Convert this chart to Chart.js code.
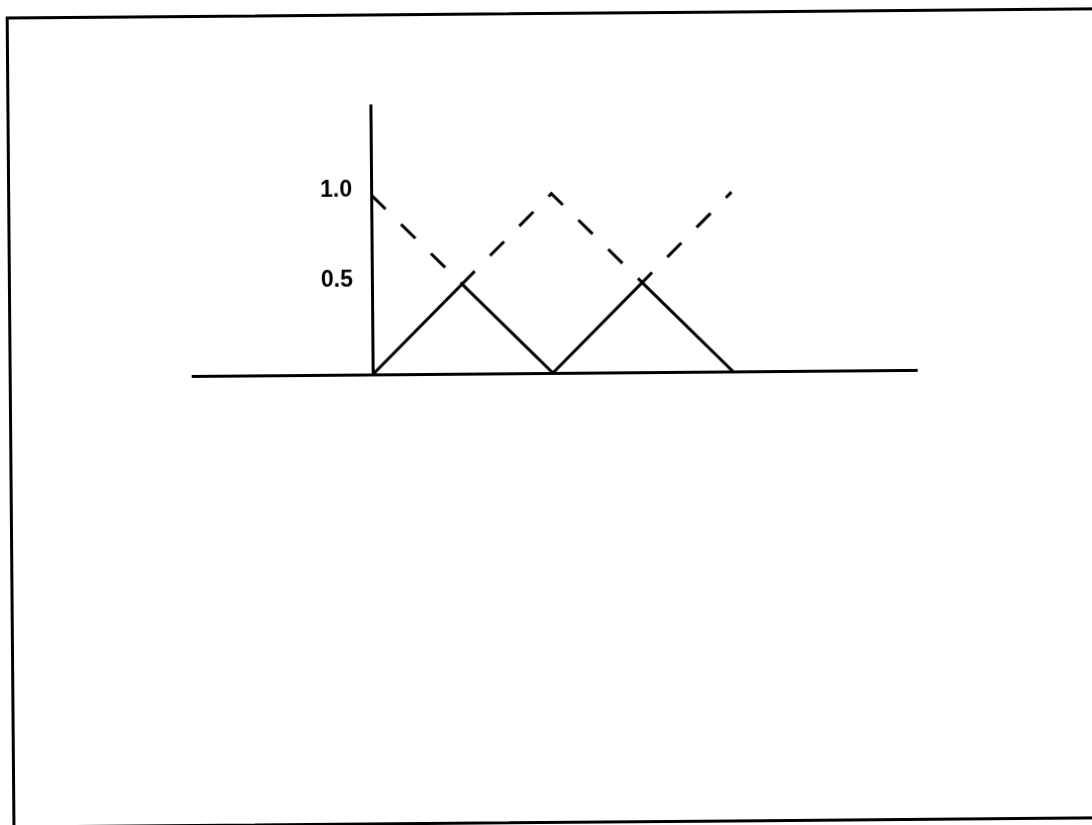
<!DOCTYPE html>
<html>
<head>
<meta charset="utf-8">
<script src="https://cdn.jsdelivr.net/npm/chart.js@4"></script>
<style>
  html, body { margin: 0; padding: 0; background: #fff; overflow: hidden; }
  #page {
    position: absolute; left: 0; top: 0; width: 1092px; height: 825px;
    transform: rotate(-0.48deg); transform-origin: 546px 412px;
  }
  #frame {
    position: absolute; left: 9px; top: 12px; width: 1100px; height: 812px;
    border: 3px solid #000; box-sizing: border-box;
  }
  #myChart { position: absolute; left: 0; top: 0; }
</style>
</head>
<body>
<div id="page">
  <div id="frame"></div>
  <canvas id="myChart" width="1092" height="825"></canvas>
</div>
<script>
const xs = [0, 0.5, 1, 1.5, 2];
const solidVals = [0, 0.5, 0, 0.5, 0];
const dashedVals = [1, 0.5, 1, 0.5, 1];
const yTicks = [0.5, 1.0];

const ctx = document.getElementById('myChart');

const pts = (vals) => xs.map((x, i) => ({x: x, y: vals[i]}));

const data = {
  datasets: [{
    label: 'solid',
    data: pts(solidVals),
    borderColor: '#000',
    borderWidth: 3,
    pointRadius: 0,
    tension: 0
  }, {
    label: 'dashed',
    data: pts(dashedVals),
    borderColor: '#000',
    borderWidth: 3,
    borderDash: [20, 21.7],
    pointRadius: 0,
    tension: 0
  }]
};

const config = {
  type: 'line',
  data: data,
  options: {
    responsive: false,
    animation: false,
    devicePixelRatio: 1,
    layout: {
      padding: {left: 193, right: 175, top: 104, bottom: 452}
    },
    plugins: {
      legend: {display: false},
      tooltip: {enabled: false}
    },
    scales: {
      x: {
        type: 'linear',
        min: -1,
        max: 3.02,
        position: {y: 0},
        grid: {display: false},
        border: {display: true, color: '#000', width: 3},
        ticks: {display: false}
      },
      y: {
        type: 'linear',
        min: 0,
        max: 1.5,
        position: {x: 0},
        grid: {display: false},
        border: {display: true, color: '#000', width: 3},
        afterBuildTicks: (scale) => {
          scale.ticks = yTicks.map(v => ({value: v}));
        },
        ticks: {
          color: '#000',
          labelOffset: -5,
          font: {family: "'Liberation Sans', Arial, sans-serif", size: 23, weight: 'bold'},
          // padding is ignored for an axis placed at x=0, so pad with spaces
          callback: (v) => Number(v).toFixed(1) + '   '
        }
      }
    }
  }
};

new Chart(ctx, config);
</script>
</body>
</html>
